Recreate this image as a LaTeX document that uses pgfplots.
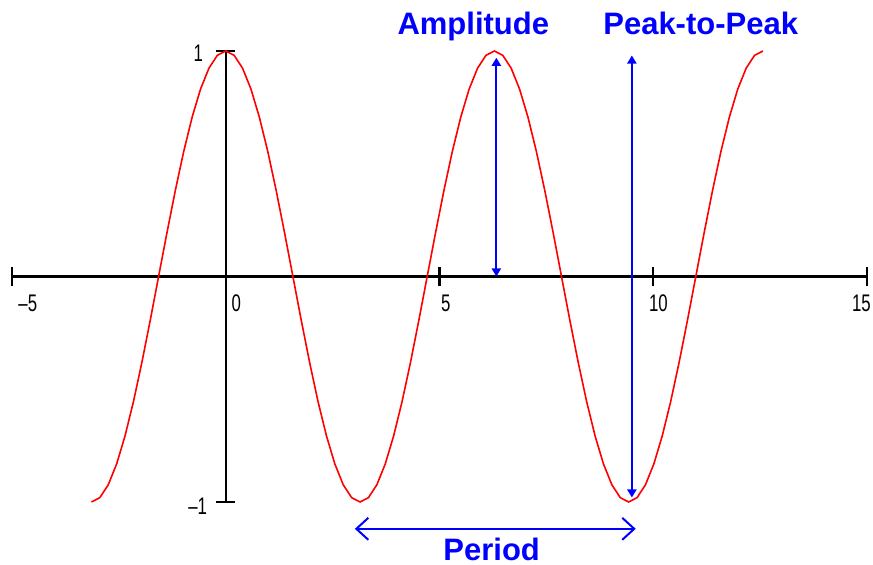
\documentclass[border=0pt]{standalone}
\usepackage{pgfplots}
\pgfplotsset{compat=1.18}
\usepackage{fontspec}
\setmainfont{Liberation Sans}
\newfontfamily\tickfont{Liberation Sans}[FakeStretch=0.7]
\usetikzlibrary{arrows.meta}
\definecolor{pblue}{RGB}{0,0,255}
\definecolor{pred}{RGB}{255,0,0}
\pgfplotstableread{
x y
-3.14159 -1
-2.94524 -0.98079
-2.74889 -0.92388
-2.55254 -0.83147
-2.35619 -0.70711
-2.15984 -0.55557
-1.96350 -0.38268
-1.76715 -0.19509
-1.57080 0
-1.37445 0.19509
-1.17810 0.38268
-0.98175 0.55557
-0.78540 0.70711
-0.58905 0.83147
-0.39270 0.92388
-0.19635 0.98079
0 1
0.19635 0.98079
0.39270 0.92388
0.58905 0.83147
0.78540 0.70711
0.98175 0.55557
1.17810 0.38268
1.37445 0.19509
1.57080 0
1.76715 -0.19509
1.96350 -0.38268
2.15984 -0.55557
2.35619 -0.70711
2.55254 -0.83147
2.74889 -0.92388
2.94524 -0.98079
3.14159 -1
3.33794 -0.98079
3.53429 -0.92388
3.73064 -0.83147
3.92699 -0.70711
4.12334 -0.55557
4.31969 -0.38268
4.51604 -0.19509
4.71239 0
4.90874 0.19509
5.10509 0.38268
5.30144 0.55557
5.49779 0.70711
5.69414 0.83147
5.89049 0.92388
6.08684 0.98079
6.28319 1
6.47954 0.98079
6.67588 0.92388
6.87223 0.83147
7.06858 0.70711
7.26493 0.55557
7.46128 0.38268
7.65763 0.19509
7.85398 0
8.05033 -0.19509
8.24668 -0.38268
8.44303 -0.55557
8.63938 -0.70711
8.83573 -0.83147
9.03208 -0.92388
9.22843 -0.98079
9.42478 -1
9.62113 -0.98079
9.81748 -0.92388
10.01383 -0.83147
10.21018 -0.70711
10.40653 -0.55557
10.60288 -0.38268
10.79923 -0.19509
10.99557 0
11.19192 0.19509
11.38827 0.38268
11.58462 0.55557
11.78097 0.70711
11.97732 0.83147
12.17367 0.92388
12.37002 0.98079
12.56637 1
}\cosdata
\begin{document}
\begin{tikzpicture}
\path[use as bounding box] (-6pt,-31.5pt) rectangle (430.5pt,251pt);
\begin{axis}[
  scale only axis, width=427.5pt, height=225.5pt,
  at={(0,0)}, anchor=south west,
  xmin=-5, xmax=15, ymin=-1, ymax=1,
  axis lines=middle,
  axis line style={line width=1.2pt, black, -},
  xtick={-5,5,10,15}, ytick={-1,1},
  xticklabels={}, yticklabels={},
  major tick length=9.5pt,
  tick style={line width=1.2pt, black},
  clip=false, enlargelimits=false,
]
\addplot[pred, line width=0.8pt] table[x=x, y=y] {\cosdata};
% tick labels
\node[font=\tickfont\fontsize{12}{12}\selectfont] at (axis cs:-4.63,-0.12) {\textendash5};
\node[font=\tickfont\fontsize{12}{12}\selectfont] at (axis cs:0.245,-0.12) {0};
\node[font=\tickfont\fontsize{12}{12}\selectfont] at (axis cs:5.15,-0.12) {5};
\node[font=\tickfont\fontsize{12}{12}\selectfont] at (axis cs:10.12,-0.12) {10};
\node[font=\tickfont\fontsize{12}{12}\selectfont] at (axis cs:14.87,-0.12) {15};
\node[font=\tickfont\fontsize{12}{12}\selectfont] at (axis cs:-0.64,0.99) {1};
\node[font=\tickfont\fontsize{12}{12}\selectfont] at (axis cs:-0.655,-1.018) {\textendash1};
% annotations
\draw[pblue, line width=1pt, {Triangle[length=4pt,width=4.5pt]}-{Triangle[length=4pt,width=4.5pt]}] (axis cs:6.33,0) -- (axis cs:6.33,0.97);
\draw[pblue, line width=1pt, {Triangle[length=4pt,width=4.5pt]}-{Triangle[length=4pt,width=4.5pt]}] (axis cs:9.5,-0.98) -- (axis cs:9.5,0.98);
\draw[pblue, line width=1pt, {Straight Barb[length=6pt,width=11pt]}-{Straight Barb[length=6pt,width=11pt]}] (axis cs:3.02,-1.119) -- (axis cs:9.59,-1.119);
\node[pblue, anchor=base, font=\bfseries\fontsize{15.5}{15.5}\selectfont] at (axis cs:5.79,1.071) {Amplitude};
\node[pblue, anchor=base, font=\bfseries\fontsize{15.5}{15.5}\selectfont] at (axis cs:11.11,1.071) {Peak-to-Peak};
\node[pblue, anchor=base, inner sep=0pt, font=\bfseries\fontsize{15.5}{15.5}\selectfont] at (axis cs:6.22,-1.258) {Period};
\end{axis}
\end{tikzpicture}
\end{document}
